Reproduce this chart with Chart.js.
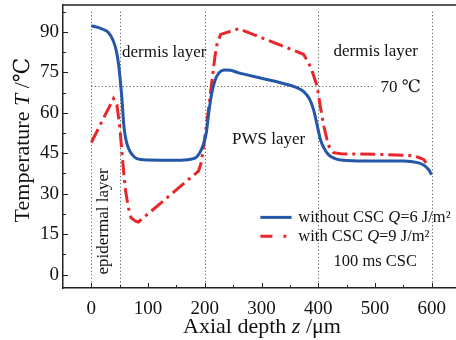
<!DOCTYPE html>
<html>
<head>
<meta charset="utf-8">
<script src="https://cdn.jsdelivr.net/npm/chart.js@4"></script>
<style>
  html, body { margin: 0; padding: 0; background: #fff; overflow: hidden; }
  #wrap { width: 470px; height: 340px; }
</style>
</head>
<body>
<div id="wrap"><canvas id="chart" width="470" height="340"></canvas></div>
<script>
// values
const depthBlue = [0, 10, 20, 30, 38, 44, 48, 51, 54, 57, 60, 65, 72, 80, 100, 150, 175, 185, 192, 198, 203, 207, 212, 218, 225, 235, 245, 260, 300, 340, 360, 375, 385, 392, 398, 404, 410, 418, 430, 450, 500, 550, 575, 588, 595, 600];
const tempBlue = [92.3, 91.8, 91.0, 89.8, 87.0, 83.0, 78.0, 72.0, 65.0, 56.0, 51.0, 47.0, 44.5, 43.0, 42.5, 42.4, 42.8, 43.5, 45.5, 48.5, 53.0, 60.0, 67.0, 72.0, 74.8, 75.9, 75.8, 74.8, 72.8, 70.8, 69.5, 67.8, 65.0, 61.0, 55.5, 50.0, 47.0, 44.5, 43.0, 42.3, 42.1, 42.1, 41.5, 40.3, 38.8, 37.0];

const depthRed = [0, 39, 45, 50, 53, 57, 60, 65, 70, 78, 83, 189, 193, 197, 201, 207, 213, 218, 222, 228, 260, 374, 383, 390, 398, 404, 410, 415, 419, 427, 440, 500, 560, 575, 586, 590];
const tempRed = [49.0, 65.3, 63.0, 55.0, 47.6, 38.0, 31.5, 25.0, 21.0, 19.8, 19.5, 38.4, 41.0, 46.0, 52.6, 62.0, 72.4, 81.0, 86.0, 89.1, 91.2, 81.7, 78.6, 75.0, 69.9, 62.0, 55.0, 50.5, 47.6, 45.2, 44.8, 44.6, 44.2, 43.6, 42.7, 41.4];

const xTicks = [0, 50, 100, 150, 200, 250, 300, 350, 400, 450, 500, 550, 600];
const yTicks = [0, 7.5, 15, 22.5, 30, 37.5, 45, 52.5, 60, 67.5, 75, 82.5, 90, 97.5];
const layerBounds = [0, 50, 200, 400, 600];

const serif = '"Liberation Serif", "DejaVu Serif", serif';
const blue = '#2457a8';
const red = '#e8262b';

function toPoints(xs, ys) {
  return xs.map((x, i) => ({ x: x, y: ys[i] }));
}

// draw text made of plain / italic pieces
function richText(ctx, parts, x, y, size, align) {
  let total = 0;
  parts.forEach(p => {
    ctx.font = (p[1] ? 'italic ' : '') + size + 'px ' + serif;
    total += ctx.measureText(p[0]).width;
  });
  let cx = align === 'center' ? x - total / 2 : x;
  ctx.textAlign = 'left';
  ctx.textBaseline = 'middle';
  parts.forEach(p => {
    ctx.font = (p[1] ? 'italic ' : '') + size + 'px ' + serif;
    ctx.fillText(p[0], cx, y);
    cx += ctx.measureText(p[0]).width;
  });
}

const decor = {
  id: 'decor',
  beforeDatasetsDraw(chart) {
    const { ctx, scales: { x, y } } = chart;
    ctx.save();
    ctx.strokeStyle = '#444';
    ctx.lineWidth = 1;
    ctx.setLineDash([1, 2.5]);
    layerBounds.forEach(v => {
      const px = Math.round(x.getPixelForValue(v)) + 0.5;
      ctx.beginPath();
      ctx.moveTo(px, y.getPixelForValue(97.5));
      ctx.lineTo(px, y.getPixelForValue(-5));
      ctx.stroke();
    });
    const py = Math.round(y.getPixelForValue(70)) + 0.5;
    ctx.beginPath();
    ctx.moveTo(x.getPixelForValue(0), py);
    ctx.lineTo(x.getPixelForValue(500), py);
    ctx.stroke();
    ctx.restore();
  },
  afterDraw(chart) {
    const { ctx, chartArea: a, scales: { x, y } } = chart;
    ctx.save();
    ctx.strokeStyle = '#222';
    ctx.lineWidth = 1.5;
    // top frame
    ctx.beginPath();
    ctx.moveTo(a.left, a.top);
    ctx.lineTo(a.right, a.top);
    ctx.stroke();
    // inward ticks
    ctx.lineWidth = 1;
    xTicks.forEach(v => {
      const px = Math.round(x.getPixelForValue(v)) + 0.5;
      const len = v % 100 === 0 ? 5 : 3;
      ctx.beginPath();
      ctx.moveTo(px, a.bottom);
      ctx.lineTo(px, a.bottom - len);
      ctx.stroke();
    });
    yTicks.forEach(v => {
      const py = Math.round(y.getPixelForValue(v)) + 0.5;
      const len = v % 15 === 0 ? 5 : 3;
      ctx.beginPath();
      ctx.moveTo(a.left, py);
      ctx.lineTo(a.left + len, py);
      ctx.stroke();
    });

    ctx.fillStyle = '#111';
    // annotations
    richText(ctx, [['dermis layer', false]], x.getPixelForValue(54), y.getPixelForValue(82.4), 17, 'left');
    richText(ctx, [['dermis layer', false]], x.getPixelForValue(427), y.getPixelForValue(82.8), 17, 'left');
    richText(ctx, [['70 \u2103', false]], x.getPixelForValue(510), y.getPixelForValue(69.4), 17, 'left');
    richText(ctx, [['PWS layer', false]], x.getPixelForValue(248), y.getPixelForValue(50), 17, 'left');
    ctx.save();
    ctx.translate(x.getPixelForValue(21.7), y.getPixelForValue(19.7));
    ctx.rotate(-Math.PI / 2);
    richText(ctx, [['epidermal layer', false]], 0, 0, 17, 'center');
    ctx.restore();

    // legend
    const lx0 = x.getPixelForValue(298), lx1 = x.getPixelForValue(353);
    const ly1 = y.getPixelForValue(21.2), ly2 = y.getPixelForValue(14.2);
    ctx.lineWidth = 3;
    ctx.strokeStyle = blue;
    ctx.beginPath(); ctx.moveTo(lx0, ly1); ctx.lineTo(lx1, ly1); ctx.stroke();
    ctx.strokeStyle = red;
    ctx.setLineDash([12, 11, 3, 100]);
    ctx.beginPath(); ctx.moveTo(lx0, ly2); ctx.lineTo(lx1, ly2); ctx.stroke();
    ctx.setLineDash([]);
    const tx = x.getPixelForValue(365);
    richText(ctx, [['without CSC ', false], ['Q', true], ['=6 J/m\u00b2', false]], tx, ly1, 16.5, 'left');
    richText(ctx, [['with CSC ', false], ['Q', true], ['=9 J/m\u00b2', false]], tx, ly2, 16.5, 'left');
    richText(ctx, [['100 ms CSC', false]], x.getPixelForValue(427), y.getPixelForValue(4.9), 16.5, 'left');

    // axis titles
    richText(ctx, [['Axial depth ', false], ['z', true], [' /\u03bcm', false]], 262, 327, 22, 'center');
    ctx.save();
    ctx.translate(23, 140);
    ctx.rotate(-Math.PI / 2);
    richText(ctx, [['Temperature ', false], ['T', true], [' /\u2103', false]], 0, 0, 22, 'center');
    ctx.restore();
    ctx.restore();
  }
};

new Chart(document.getElementById('chart'), {
  type: 'line',
  data: {
    datasets: [
      {
        label: 'without CSC Q=6 J/m²',
        data: toPoints(depthBlue, tempBlue),
        borderColor: blue,
        borderWidth: 3,
        pointRadius: 0,
        cubicInterpolationMode: 'monotone',
        fill: false
      },
      {
        label: 'with CSC Q=9 J/m²',
        data: toPoints(depthRed, tempRed),
        borderColor: red,
        borderWidth: 3,
        borderDash: [15, 5, 3, 5],
        pointRadius: 0,
        tension: 0,
        fill: false
      }
    ]
  },
  options: {
    responsive: false,
    animation: false,
    layout: { padding: { top: 5, right: 10, left: 0, bottom: 0 } },
    plugins: { legend: { display: false }, tooltip: { enabled: false } },
    scales: {
      x: {
        type: 'linear',
        min: -50,
        max: 650,
        afterBuildTicks: s => { s.ticks = xTicks.map(v => ({ value: v })); },
        afterFit: s => { s.height = 52; s.paddingLeft = 0; s.paddingRight = 0; },
        ticks: {
          autoSkip: false,
          maxRotation: 0,
          padding: 10,
          color: '#111',
          font: { family: serif, size: 19 },
          callback: v => (v % 100 === 0 ? String(v) : '')
        },
        grid: { display: false, drawTicks: false },
        border: { display: true, color: '#222', width: 1.5 }
      },
      y: {
        min: -5,
        max: 100,
        afterBuildTicks: s => { s.ticks = yTicks.map(v => ({ value: v })); },
        afterFit: s => { s.width = 63; s.paddingTop = 0; s.paddingBottom = 0; },
        ticks: {
          autoSkip: false,
          padding: 4,
          color: '#111',
          font: { family: serif, size: 19 },
          callback: v => (v % 15 === 0 ? String(v) : '')
        },
        grid: { display: false, drawTicks: false },
        border: { display: true, color: '#222', width: 1.5 }
      }
    }
  },
  plugins: [decor]
});
</script>
</body>
</html>
